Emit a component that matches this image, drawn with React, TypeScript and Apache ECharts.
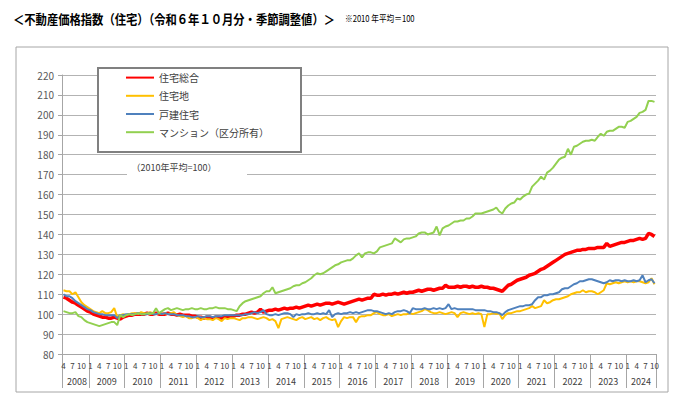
import React, { useEffect, useRef } from "react";
import * as echarts from "echarts";

// ---- Data ----
const YEARS = [2008, 2009, 2010, 2011, 2012, 2013, 2014, 2015, 2016, 2017, 2018, 2019, 2020, 2021, 2022, 2023, 2024];
const FIRST_MONTH = 4; // 2008 starts in April
const LAST_MONTH = 10; // 2024 ends in October
const MONTH_TICK_LABELS = [1, 4, 7, 10];
const Y_MIN = 80;
const Y_MAX = 220;
const Y_STEP = 10;

const SERIES_NAMES = ["住宅総合", "住宅地", "戸建住宅", "マンション（区分所有）"];
const SERIES_COLORS = ["#ff0000", "#ffc000", "#4f81bd", "#92d050"];

// 住宅総合
const sogo: number[] = [
  108.5, 108, 107, 106, 105.5, 104.5, 103.5, 102.5, 101.5,
  101, 100, 99.5, 99, 98.5, 98.5, 98, 98, 98.5, 98, 97.5, 98.5,
  99, 99.5, 99.5, 100, 100, 100, 100, 100.5, 100, 100, 100.5, 100,
  100, 100, 100.5, 100, 100, 99.5, 100, 99.5, 99.5, 99.5, 99, 99,
  98.5, 98.5, 98, 98.5, 98.5, 98, 98.5, 98.5, 98, 98.5, 98.5, 99,
  99, 99.5, 99.5, 100, 100, 100.5, 101, 100.5, 101, 102.5, 101, 101.5,
  102, 102, 102.5, 102, 102.5, 103, 102.5, 103, 103, 103.5, 103, 103.5,
  104, 104.5, 104, 104.5, 105, 104.5, 105, 105.5, 105.5, 105, 105.5, 106,
  105.5, 105, 105.5, 106, 106.5, 107, 107.5, 107, 107.5, 108, 108, 110,
  109.5, 109.5, 110, 109.5, 110, 110, 110.5, 110, 110.5, 111, 110.5, 111,
  111, 111.5, 112, 111.5, 112, 112.5, 112.5, 112, 112.5, 113, 113, 114.5,
  113.5, 113.5, 113.5, 114, 113.5, 114, 114, 113.5, 114, 113.5, 113.5, 114,
  113.5, 113.5, 113, 113, 112.5, 112, 111.5, 113, 114.5, 115, 116, 117,
  117.5, 118, 118.5, 119.5, 120, 120.5, 121.5, 122.5, 123, 124, 125, 126,
  127, 128, 129, 130, 130.5, 131, 131.5, 132, 132, 132.5, 132.5, 133,
  133, 133, 133.5, 133.5, 133.5, 135.5, 134, 134.5, 135, 135.5, 136, 136,
  136.5, 137, 137, 137.5, 138, 137.5, 138, 140.5, 140, 139,
];

// 住宅地
const takuchi: number[] = [
  112, 111.5, 111.5, 110, 111, 108.5, 106, 104.5, 103.5,
  102.5, 101.5, 101, 100.5, 101.5, 100.5, 100.5, 101, 103, 98.5, 99.5, 100,
  99.5, 100, 100.5, 100.5, 100, 101, 100.5, 100, 101, 100.5, 100, 100.5,
  100, 100.5, 100, 100.5, 101, 99.5, 99, 98.5, 99, 98, 98, 98.5,
  98, 97, 98, 97.5, 97.5, 97, 98, 97.5, 96.5, 98, 97.5, 98,
  98, 97.5, 97, 98, 98, 98.5, 98.5, 98, 97.5, 98, 98.5, 98,
  97, 97.5, 96.5, 93, 97.5, 98, 98.5, 98, 97.5, 97, 98, 98.5,
  97.5, 98, 98.5, 97.5, 98, 97, 98, 98.5, 97.5, 97, 97.5, 93.5,
  96.5, 98.5, 98, 98.5, 98.5, 96, 98.5, 99, 99, 99.5, 99.5, 100.5,
  101, 100, 99.5, 99.5, 100, 99, 99.5, 100, 99.5, 100, 100, 100.5,
  100, 100.5, 101, 101.5, 102.5, 102, 101, 100.5, 100.5, 101, 100.5, 100,
  100.5, 101, 100.5, 98.5, 100.5, 101, 100.5, 100, 100.5, 100, 100.5, 100,
  93.5, 100, 100, 100.5, 100, 100.5, 97.5, 99.5, 100.5, 100.5, 101, 101.5,
  101.5, 102, 102.5, 103, 104, 103, 103.5, 104, 107, 105.5, 106, 107,
  107.5, 107.5, 108, 108.5, 109, 110, 110.5, 111, 111, 112, 111, 111.5,
  111.5, 111, 110, 111, 112, 115.5, 115, 115.5, 116, 115.5, 116, 116.5,
  116, 116.5, 116, 116.5, 116.5, 116, 115.5, 116, 118, 115,
];

// 戸建住宅
const kodate: number[] = [
  110, 109, 109, 108, 106.5, 105.5, 104.5, 103.5, 102.5,
  102, 101, 100.5, 100, 100, 99.5, 99.5, 99.5, 99.5, 98, 99.5, 99.5,
  100, 100, 100, 100, 100.5, 100, 100, 100, 100.5, 100, 100, 100.5,
  100, 100.5, 100, 100, 100, 99.5, 99.5, 99.5, 99, 99, 98.5, 98.5,
  99, 98.5, 98.5, 99, 99, 98.5, 99, 99, 99, 99.5, 99.5, 99.5,
  99.5, 99.5, 99.5, 99.5, 100, 100, 100.5, 101, 100.5, 101, 102, 100,
  99.5, 99.5, 100, 99.5, 100, 100.5, 100.5, 100, 98.5, 100, 99.5, 100,
  100, 100.5, 100, 100, 100.5, 100, 100.5, 100, 102, 98.5, 100, 100.5,
  100, 100.5, 100.5, 101, 100.5, 101, 100.5, 101, 101.5, 102, 102, 101.5,
  101.5, 101, 100.5, 100, 100.5, 100, 101, 101.5, 101.5, 102, 101.5, 100.5,
  103, 102.5, 102.5, 102.5, 103, 102.5, 102.5, 103, 102.5, 103, 102.5, 103,
  105, 102.5, 103, 102.5, 102.5, 102.5, 102.5, 102.5, 102.5, 102, 102, 102,
  102, 101.5, 101.5, 101, 101, 100.5, 99.5, 101, 102, 102.5, 103, 103.5,
  104, 104, 104.5, 104.5, 105, 107, 108.5, 108.5, 109.5, 109.5, 110, 110,
  110.5, 111, 112.5, 113, 113, 114, 115, 115.5, 116.5, 116.5, 117, 117.5,
  117.5, 117, 116.5, 116, 115.5, 116, 117, 116.5, 117, 117, 116.5, 117,
  116.5, 116.5, 117, 116.5, 117, 119.5, 116, 117, 117.5, 115.5,
];

// マンション（区分所有）
const mansion: number[] = [
  101.5, 101, 100.5, 100.5, 101, 99, 98.5, 97, 96,
  95.5, 95, 94.5, 94, 94.5, 95, 95.5, 96, 96, 94.5, 99.5, 98.5,
  99.5, 100, 99.5, 100, 100.5, 100, 100, 100.5, 100, 100.5, 103, 100.5,
  101.5, 102.5, 103, 102, 102.5, 103, 102.5, 102, 102.5, 102.5, 103, 102.5,
  102.5, 103, 102.5, 102.5, 103, 103, 103.5, 103, 103, 103, 102.5, 102.5,
  102, 101.5, 104, 105.5, 106.5, 107, 107.5, 108, 108.5, 109, 110.5, 111.5,
  111.5, 113.5, 110.5, 111, 111.5, 112, 112.5, 113, 114, 114.5, 114.5, 115.5,
  116, 117, 118, 119.5, 120.5, 120, 120.5, 121.5, 122.5, 123.5, 124.5, 125,
  126, 126.5, 127, 127, 128, 129.5, 130.5, 128.5, 130.5, 131, 131, 130.5,
  131.5, 133.5, 134, 134.5, 135, 135.5, 138, 137, 136, 137.5, 138, 138,
  138.5, 139, 140.5, 141, 141, 140, 140.5, 141, 144, 139.5, 143, 144,
  144.5, 145.5, 146.5, 146.5, 147, 147, 148, 148, 149, 150.5, 150.5, 150.5,
  151, 151.5, 152, 152.5, 153.5, 151.5, 150.5, 153, 154.5, 155.5, 156, 158,
  157.5, 159, 160, 160.5, 164, 165.5, 167, 169, 167.5, 171, 172, 173.5,
  175.5, 177.5, 178.5, 179, 183, 180, 184, 184.5, 185.5, 186.5, 187, 187,
  187.5, 187, 189, 190.5, 189.5, 191.5, 192, 192, 193, 194, 194, 193.5,
  196.5, 197, 198, 199, 201, 201.5, 202.5, 207, 207, 206.5,
];

const SERIES_DATA = [sogo, takuchi, kodate, mansion];

// category list "YYYY/M"
const categories: string[] = [];
YEARS.forEach((y, yi) => {
  const s = yi === 0 ? FIRST_MONTH : 1;
  const e = yi === YEARS.length - 1 ? LAST_MONTH : 12;
  for (let m = s; m <= e; m++) categories.push(`${y}/${m}`);
});
const monthOf = (v: string) => parseInt(v.split("/")[1], 10);
const yearOf = (v: string) => v.split("/")[0];
const labelMonthOfYear = (y: number) => {
  if (y === YEARS[0]) return 8;
  if (y === YEARS[YEARS.length - 1]) return 5;
  return 6;
};

const FONT = "'Noto Sans CJK JP', 'Liberation Sans', sans-serif";
const AXIS_GRAY = "#a6a6a6";

export default function App() {
  const ref = useRef<HTMLDivElement>(null);
  useEffect(() => {
    if (!ref.current) return;
    const chart = echarts.init(ref.current, undefined, { renderer: "svg" });
    const option: any = {
      animation: false,
      backgroundColor: "#ffffff",
      textStyle: { fontFamily: FONT },
      grid: { left: 62, right: 29, top: 75, bottom: 40, containLabel: false },
      legend: {
        orient: "vertical",
        left: 125,
        top: 72,
        itemWidth: 28,
        itemHeight: 14,
        itemGap: 7,
        padding: 0,
        z: 10,
        data: SERIES_NAMES,
        itemStyle: { opacity: 0 },
        textStyle: { fontSize: 10, color: "#404040", fontFamily: FONT },
      },
      xAxis: [
        {
          type: "category",
          data: categories,
          boundaryGap: true,
          axisLine: { lineStyle: { color: AXIS_GRAY, width: 1 } },
          axisTick: {
            show: true,
            length: 34,
            interval: (i: number, v: string) => i === 0 || monthOf(v) === 1,
            lineStyle: { color: AXIS_GRAY, width: 1 },
          },
          axisLabel: {
            interval: (_i: number, v: string) => MONTH_TICK_LABELS.includes(monthOf(v)),
            formatter: (v: string) => String(monthOf(v)),
            fontSize: 8,
            color: "#404040",
            margin: 7,
            fontFamily: FONT,
          },
          splitLine: { show: false },
        },
        {
          type: "category",
          data: categories,
          position: "bottom",
          offset: 0,
          boundaryGap: true,
          axisLine: { show: false },
          axisTick: { show: false },
          axisLabel: {
            interval: (_i: number, v: string) => monthOf(v) === labelMonthOfYear(parseInt(yearOf(v), 10)),
            formatter: (v: string) => yearOf(v),
            fontSize: 9,
            color: "#404040",
            margin: 23,
            padding: [0, 0, 0, 3],
            fontFamily: FONT,
          },
          splitLine: { show: false },
        },
      ],
      yAxis: {
        type: "value",
        min: Y_MIN,
        max: Y_MAX,
        interval: Y_STEP,
        axisLine: { show: true, lineStyle: { color: AXIS_GRAY } },
        axisTick: { show: true, length: 4, lineStyle: { color: AXIS_GRAY } },
        axisLabel: { fontSize: 10, color: "#595959", margin: 8, fontFamily: FONT },
        splitLine: { show: true, lineStyle: { color: "#b3b3b3", width: 1 } },
      },
      series: SERIES_NAMES.map((name, i) => ({
        name,
        type: "line",
        xAxisIndex: 0,
        data: SERIES_DATA[i],
        symbol: "none",
        showSymbol: false,
        color: SERIES_COLORS[i],
        lineStyle: { color: SERIES_COLORS[i], width: i === 0 ? 3.5 : 2 },
        z: 2 + i,
      })),
      graphic: [
        {
          type: "rect",
          z: 0,
          silent: true,
          shape: { x: 16, y: 47, width: 652, height: 345 },
          style: { fill: "none", stroke: AXIS_GRAY, lineWidth: 1 },
        },
        {
          type: "text",
          x: 13,
          y: 19,
          scaleX: 0.87,
          style: {
            text: "＜不動産価格指数（住宅）（令和６年１０月分・季節調整値）＞",
            fontSize: 13,
            fontWeight: "bold",
            fontFamily: FONT,
            fill: "#000000",
            verticalAlign: "middle",
          },
        },
        {
          type: "text",
          x: 345,
          y: 18,
          scaleX: 0.85,
          style: {
            text: "※2010 年平均＝100",
            fontSize: 9,
            fontFamily: FONT,
            fill: "#000000",
            verticalAlign: "middle",
          },
        },
        {
          type: "rect",
          z: 8,
          silent: true,
          shape: { x: 98, y: 68, width: 203, height: 84 },
          style: { fill: "#ffffff", stroke: "#808080", lineWidth: 2 },
        },
        {
          type: "rect",
          z: 8,
          silent: true,
          shape: { x: 127, y: 160, width: 120, height: 15 },
          style: { fill: "#ffffff", stroke: "none" },
        },
        {
          type: "text",
          z: 9,
          x: 174,
          y: 167,
          style: {
            text: "（2010年平均=100）",
            fontSize: 9,
            fontFamily: FONT,
            fill: "#404040",
            align: "center",
            verticalAlign: "middle",
          },
        },
      ],
    };
    chart.setOption(option);
    return () => chart.dispose();
  }, []);
  return (
    <div
      ref={ref}
      style={{ position: "absolute", left: 0, top: 0, width: 685, height: 394 }}
    />
  );
}
